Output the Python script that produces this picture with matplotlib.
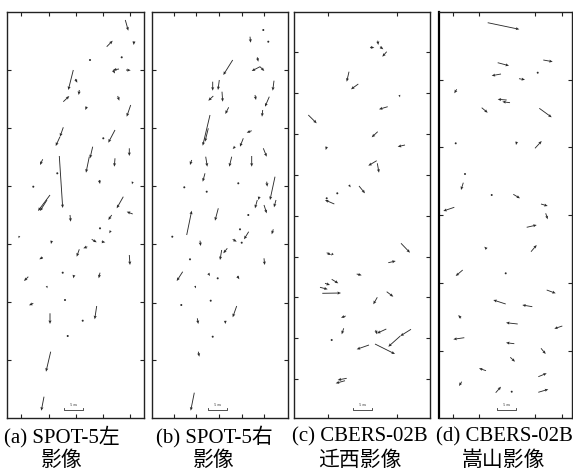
import matplotlib
matplotlib.use("Agg")
import matplotlib.pyplot as plt

W, H = 573, 474

# Vektory reziduí (x0, y0, x1, y1), souřadnice v pixelech snímku
arrows_a = [
    (125.3, 20, 128.3, 30.7), (106.7, 46.7, 112.7, 40.7), (134, 41, 133.7, 45),
    (90, 60, 90, 60), (121.7, 57.3, 121.7, 57.3), (119, 69, 113, 70),
    (113, 70, 115, 73.5), (126, 70, 130.7, 70.3), (73.3, 70, 68.3, 90),
    (75.3, 79, 77.3, 82.7), (79.3, 90, 78.7, 95), (63.3, 101.7, 69.3, 96),
    (117.7, 96, 119.3, 100.7), (130.7, 105, 126.7, 116.7), (86.7, 106.7, 85.3, 110),
    (63.3, 127.3, 60, 136.7), (60, 136.7, 55.7, 146), (115, 130, 108.3, 142.7),
    (103.3, 138.3, 104, 140), (92.7, 146.7, 90, 158.3), (129.3, 148.3, 129.3, 156),
    (42.7, 159.3, 40, 165), (59.3, 156, 62.7, 208), (89.3, 156.7, 86, 172.7),
    (115, 158.3, 114.3, 166.7), (57.3, 173.3, 57.3, 173.3), (99.3, 180, 100, 184),
    (132.7, 181.7, 132, 184.3), (33.3, 186.7, 33.3, 186.7), (50, 195, 38, 211),
    (47, 200, 40, 211), (123.3, 196.7, 116.7, 208.3), (70, 215, 70.7, 221.7),
    (132.7, 214, 126.7, 211.7), (111.7, 215, 108.3, 220), (100, 228.3, 100, 228.3),
    (110.7, 230.7, 109.3, 233.3), (19.3, 236, 18.7, 238.3), (51.7, 240.7, 51, 244),
    (91.7, 239.3, 96.7, 242.3), (101.7, 241.7, 105.3, 242.3), (79.3, 249.3, 76.7, 256.7),
    (87.3, 246.7, 83.3, 248.3), (129.3, 255, 130, 265), (42.7, 257.3, 39.3, 259.3),
    (62.7, 272.7, 62.7, 272.7), (74, 275, 73.3, 278.3), (100, 272.7, 98.7, 278.3),
    (28.3, 276.7, 24, 281), (46.7, 286, 47.3, 288.3), (65, 300, 65, 300),
    (33.3, 303.3, 29, 305.3), (96.7, 306, 94.7, 319.3), (50, 313.3, 50, 324),
    (82.7, 320.7, 82.7, 320.7), (67.7, 336, 67.7, 336), (50.7, 351.7, 46, 371.7),
    (44, 396.7, 41.3, 410.7),
]

arrows_b = [
    (263.3, 30, 263.3, 30), (268.3, 41.7, 268.3, 41.7), (250, 36.7, 250.7, 42.7),
    (257.3, 57.3, 258.3, 61.7), (260, 66.7, 251.7, 71), (260, 66.7, 264.3, 71),
    (232.7, 60, 223.3, 75), (212.7, 81.7, 212.7, 90.7), (219.3, 80, 218, 90),
    (274, 80.7, 272.7, 90.7), (213.3, 96, 208.3, 100.7), (222, 91.7, 222.7, 101.7),
    (255, 95, 256, 100), (269.3, 96.7, 265, 106.7), (228.7, 107.3, 225.3, 114),
    (262.7, 110, 262, 116.7), (210, 115, 202.7, 145.7), (208.3, 128.3, 205, 141.7),
    (251.7, 130.7, 246.7, 132.7), (243.3, 138.3, 240, 146.7), (235, 146.7, 232.7, 149),
    (263.3, 148.3, 266.7, 156.7), (191.7, 160, 190, 165), (205.7, 156.7, 207.3, 166.7),
    (231.7, 156.7, 229.3, 166.7), (251.7, 156, 251.7, 166.7), (205, 173.3, 202.7, 181.7),
    (184.3, 187.3, 184.3, 187.3), (206.7, 191.7, 206.7, 191.7), (238.3, 183.3, 238.3, 183.3),
    (266.7, 181.7, 267.3, 186.7), (275, 176.7, 270, 200), (259.3, 196.7, 258.3, 200),
    (257.3, 200, 255, 208.3), (264, 205, 266.7, 213.3), (276, 200, 274, 207.3),
    (186.7, 235, 191.7, 210.7), (218.3, 208.3, 215, 220.7), (248.3, 215, 248.3, 215),
    (240, 229.3, 240, 229.3), (248.7, 231.7, 244, 239.3), (273.3, 229.3, 271.7, 234.3),
    (172.3, 236.7, 172.3, 236.7), (200, 240.7, 200.7, 246), (232.7, 239.3, 236.7, 241.7),
    (241.7, 242.7, 241.7, 242.7), (227.3, 248.3, 223.3, 253.3), (221.7, 250, 220, 260),
    (264, 258.3, 264.7, 265), (190, 259.3, 190, 259.3), (182.7, 271.7, 176.7, 281),
    (208.3, 273.3, 210, 276), (217.7, 278.3, 217.7, 278.3), (237.3, 276, 239.3, 279.3),
    (195, 286, 196, 288.3), (210.7, 300.7, 210.7, 300.7), (181.3, 305, 181.3, 305),
    (236.7, 306, 232.7, 317.3), (197.3, 318.3, 198.3, 324), (225.3, 320.7, 225.3, 324),
    (212.7, 336.7, 212.7, 336.7), (198.3, 351.7, 199.3, 356.7), (194.3, 392.7, 190.7, 410.7),
]

arrows_c = [
    (377.7, 40.7, 378.3, 45), (370, 47.3, 374.3, 47.7), (380, 46.7, 383.3, 49.3),
    (386.7, 51.7, 382.3, 56.7), (349, 71.7, 346.7, 81.7), (358.3, 84, 351, 89.3),
    (399.3, 95, 400, 97.3), (387.7, 106.7, 379, 109.3), (308.3, 115, 316.7, 123.3),
    (377.7, 131.7, 371.7, 137.3), (405, 145, 397.7, 146.7), (326.7, 146.7, 325.7, 150),
    (376.7, 160.7, 368.3, 165.7), (377.3, 163.3, 379, 172.7), (349, 185, 350.7, 187.3),
    (359, 186, 365, 193.3), (337.3, 193.3, 337.3, 193.3), (326.7, 198.3, 326.7, 198.3),
    (334.3, 204, 325, 200), (326.7, 252.7, 331, 255), (333, 253.5, 331, 255.5),
    (401, 243.3, 410, 252.7), (388.3, 262.7, 395.7, 261), (356.7, 274, 361.7, 275.3),
    (331.7, 279.3, 338.3, 283.3), (325, 283.3, 330, 285), (320, 287.3, 327.7, 289.3),
    (322.3, 293.3, 341, 293), (386.7, 291.7, 393.3, 296.7), (377.3, 297.3, 373.3, 304.3),
    (345.7, 316, 341, 317.7), (343.7, 328.3, 341.7, 334.3), (375.7, 330, 377, 334.3),
    (386.3, 329, 377, 333.3), (411, 329.3, 400.3, 336), (400.3, 336, 388.3, 346.7),
    (331.7, 340, 333.3, 341), (369, 345, 356.7, 349.3), (375, 344, 395, 354),
    (346.7, 378.3, 337.7, 380), (345, 380.7, 335.7, 383.3),
]

arrows_d = [
    (487.7, 22.7, 519.3, 29.3), (543.3, 60, 552.7, 61.7), (497.7, 62.7, 509, 65.7),
    (537.7, 72.7, 537.7, 72.7), (501, 74, 491.7, 75.7), (519, 78.7, 525, 79.7),
    (456.7, 89.3, 454.3, 93.3), (506.7, 100, 497.7, 99.3), (510, 102.7, 502.3, 101.7),
    (481.7, 107.7, 487.7, 112.7), (539.3, 108.3, 551.7, 117.3), (455.7, 143.3, 455.7, 143.3),
    (516.7, 141.7, 516, 145), (535, 148.3, 541.7, 141), (465, 174, 465, 174),
    (463.3, 182.7, 461, 190), (491.7, 195, 491.7, 195), (513.3, 194.3, 520, 198.3),
    (454.3, 207.3, 443.3, 211), (541, 204, 547.7, 206), (545.7, 213.3, 547.7, 219.3),
    (526.7, 227.3, 536.7, 225), (531, 251.7, 536.7, 245), (486.7, 249, 484.3, 246.7),
    (462.7, 270, 455.7, 276), (505.7, 273.3, 505.7, 273.3), (546.7, 290, 555.7, 293.3),
    (505.7, 304, 493.3, 300), (532.3, 306.7, 522.3, 305), (461, 318.3, 458.3, 315),
    (517.7, 324, 506, 322.7), (562.3, 326, 554.3, 328.7), (464.3, 337.7, 453.3, 339.3),
    (514.3, 343.7, 506, 342.7), (541, 348.3, 545.7, 354), (510.3, 357.3, 515, 361.7),
    (486, 370.7, 479, 368.3), (538.3, 376.7, 546.7, 373.3), (461.7, 381.7, 459, 386),
    (495.7, 392.7, 501, 386.7), (511.7, 391.7, 511.7, 391.7), (538.3, 392.3, 548.3, 389.3),
]

# Rámečky panelů (levý, pravý okraj) a dělení os
panel_x = [(7, 144), (152, 288), (294, 430), (439, 572)]
panel_top, panel_bottom = 12, 418
xticks = [[21, 49, 76, 103, 130], [174, 196, 219, 242, 264], [328, 397], [453, 479, 535, 562]]
yticks = [[70, 128, 186, 244, 302, 360], [70, 128, 186, 244, 303, 360],
          [52, 93, 134, 175, 216, 257, 297, 338, 379], [80, 147, 215, 283, 351]]

# Měřítko 5 m
scale_bars = [(64.3, 83.3), (208.3, 227.3), (353.3, 371.7), (496.7, 515.7)]
scale_y = 409.5
scale_label = "5 m"

captions = [("(a) SPOT-5左", "影像", 62), ("(b) SPOT-5右", "影像", 214),
            ("(c) CBERS-02B", "迁西影像", 360), ("(d) CBERS-02B", "嵩山影像", 504)]

fig = plt.figure(figsize=(W / 100, H / 100), dpi=100)
fig.patch.set_facecolor("white")

all_arrows = [arrows_a, arrows_b, arrows_c, arrows_d]
for i, (x_l, x_r) in enumerate(panel_x):
    ax = fig.add_axes([x_l / W, 1 - panel_bottom / H, (x_r - x_l) / W, (panel_bottom - panel_top) / H])
    ax.set_xlim(x_l, x_r)
    ax.set_ylim(panel_bottom, panel_top)

    arr = all_arrows[i]
    x0 = [a[0] for a in arr]
    y0 = [a[1] for a in arr]
    u = [a[2] - a[0] for a in arr]
    v = [a[3] - a[1] for a in arr]
    ax.quiver(x0, y0, u, v, angles="xy", scale_units="xy", scale=1,
              width=0.0065, headwidth=3.5, headlength=4, headaxislength=3.5,
              minlength=2.5, color="#2a2a2a")

    # měřítko
    sx0, sx1 = scale_bars[i]
    ax.plot([sx0, sx0, sx1, sx1], [scale_y - 1.2, scale_y, scale_y, scale_y - 1.2],
            color="#333333", lw=0.6)
    ax.text((sx0 + sx1) / 2, scale_y - 2.5, scale_label, fontsize=3.2,
            ha="center", va="bottom", color="#333333", family="Liberation Serif")

    ax.set_xticks(xticks[i])
    ax.set_yticks(yticks[i])
    ax.tick_params(direction="in", length=3, width=0.8, top=True, right=True,
                   labelbottom=False, labelleft=False, colors="#222222")
    for sp in ax.spines.values():
        sp.set_linewidth(1.0)
        sp.set_color("#222222")
    if i == 3:
        ax.spines["left"].set_linewidth(1.6)
        ax.spines["left"].set_color("black")

fonts = ["Liberation Serif", "Noto Sans CJK SC"]
for line1, line2, xc in captions:
    fig.text(xc / W, 1 - 437 / H, line1, ha="center", va="center", fontsize=15, family=fonts)
    fig.text(xc / W, 1 - 461 / H, line2, ha="center", va="center", fontsize=15, family=fonts)

fig.savefig("out.png", dpi=100)
